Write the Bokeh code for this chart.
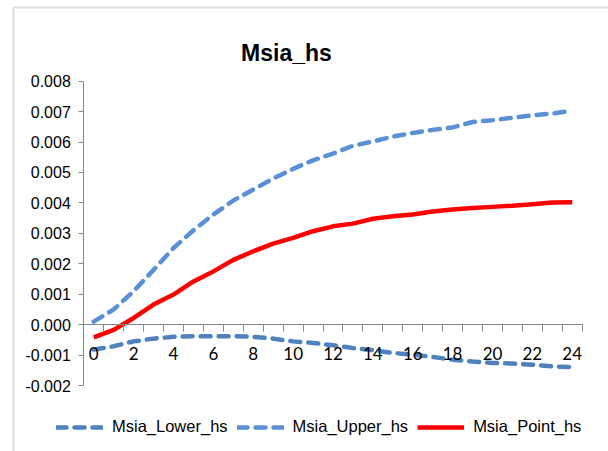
from bokeh.plotting import figure
from bokeh.models import (FixedTicker, PrintfTickFormatter, Legend, LegendItem,
                          Label, BoxAnnotation, LinearAxis)
from bokeh.embed import file_html
from bokeh.resources import INLINE

periods = list(range(25))
lower = [-0.00082, -0.00071, -0.00055, -0.00046, -0.00040, -0.00038, -0.00038,
         -0.00038, -0.00040, -0.00046, -0.00055, -0.00060, -0.00068, -0.00077,
         -0.00084, -0.00093, -0.00099, -0.00106, -0.00115, -0.00121, -0.00126,
         -0.00128, -0.00132, -0.00137, -0.00140]
upper = [0.00010, 0.00050, 0.00110, 0.00180, 0.00252, 0.00310, 0.00362, 0.00408,
         0.00444, 0.00480, 0.00512, 0.00540, 0.00562, 0.00588, 0.00602, 0.00618,
         0.00630, 0.00640, 0.00648, 0.00666, 0.00672, 0.00680, 0.00688, 0.00694,
         0.00703]
point = [-0.00042, -0.00017, 0.00022, 0.00066, 0.00099, 0.00142, 0.00175, 0.00213,
         0.00241, 0.00266, 0.00285, 0.00307, 0.00323, 0.00332, 0.00348, 0.00356,
         0.00362, 0.00372, 0.00378, 0.00383, 0.00387, 0.00391, 0.00396, 0.00401,
         0.00402]
y_ticks = [-0.002, -0.001, 0.0, 0.001, 0.002, 0.003, 0.004, 0.005, 0.006, 0.007, 0.008]
x_tick_labels = [0, 2, 4, 6, 8, 10, 12, 14, 16, 18, 20, 22, 24]
x_cat_edges = [i - 0.5 for i in range(26)]
title_text = "Msia_hs"
names = ["Msia_Lower_hs", "Msia_Upper_hs", "Msia_Point_hs"]

W, H = 608, 451
# plot-area placement in pixels (layout only)
PL, PR, PT, PB = 83.3, 581.7, 80.7, 385.0
x0, x1 = -0.5, 24.5
y0, y1 = y_ticks[0], y_ticks[-1]
sx = (PR - PL) / (x1 - x0)
sy = (PB - PT) / (y1 - y0)
xr = (x0 - PL / sx, x1 + (W - PR) / sx)
yr = (y0 - (H - PB) / sy, y1 + PT / sy)

AX = "#868686"
p = figure(width=W, height=H, x_range=xr, y_range=yr,
           output_backend="svg", toolbar_location=None,
           x_axis_location=None, y_axis_location=None,
           min_border=0)
p.outline_line_color = None
p.xgrid.visible = False
p.ygrid.visible = False
p.background_fill_color = "white"
p.border_fill_color = "white"

ya = LinearAxis(fixed_location=x0, bounds=(y0, y1))
ya.ticker = FixedTicker(ticks=y_ticks)
ya.formatter = PrintfTickFormatter(format="%.3f")
ya.axis_line_color = AX
ya.major_tick_line_color = AX
ya.major_tick_out = 5
ya.major_tick_in = 0
ya.minor_tick_line_color = None
ya.major_label_standoff = 8
ya.major_label_text_font = "Liberation Sans"
ya.major_label_text_font_size = "16px"
ya.major_label_text_color = "black"
p.add_layout(ya, "left")

xa = LinearAxis(fixed_location=0, bounds=(x0, x1))
xa.ticker = FixedTicker(ticks=x_tick_labels, minor_ticks=x_cat_edges)
xa.axis_line_color = AX
xa.major_tick_line_color = None
xa.major_tick_out = 0
xa.major_tick_in = 0
xa.minor_tick_line_color = AX
xa.minor_tick_out = 7
xa.minor_tick_in = 0
xa.major_label_standoff = 15
xa.major_label_text_font = "Lato"
xa.major_label_text_font_size = "17px"
xa.major_label_text_color = "black"
p.add_layout(xa, "below")

r_low = p.line(periods, lower, line_color="#4F81BD", line_width=4.5,
               line_dash="10 8", line_cap="round")
r_up = p.line(periods, upper, line_color="#5B8FD6", line_width=4.5,
              line_dash="10 8", line_cap="round")
r_pt = p.line(periods, point, line_color="#FF0000", line_width=4.5)

legend = Legend(items=[LegendItem(label=names[0], renderers=[r_low]),
                       LegendItem(label=names[1], renderers=[r_up]),
                       LegendItem(label=names[2], renderers=[r_pt])],
                orientation="horizontal", location=(56, 15),
                border_line_color=None, background_fill_alpha=0,
                padding=0, margin=0, spacing=9, glyph_width=47, glyph_height=16,
                label_standoff=9, label_text_font="Liberation Sans",
                label_text_font_size="16.5px", label_text_color="black",
                label_height=16)
p.add_layout(legend, "center")

p.add_layout(Label(x=286, y=H - 52, x_units="screen", y_units="screen",
                   text=title_text, text_font="Liberation Sans",
                   text_font_style="bold", text_font_size="23px",
                   text_color="black",
                   text_align="center", text_baseline="middle"))

p.add_layout(BoxAnnotation(left=13, right=W + 50, bottom=-50, top=H - 7,
                           left_units="screen", right_units="screen",
                           bottom_units="screen", top_units="screen",
                           fill_alpha=0, line_color="#8c8c8c", line_width=2))

open("out.html", "w").write(file_html(p, INLINE))
